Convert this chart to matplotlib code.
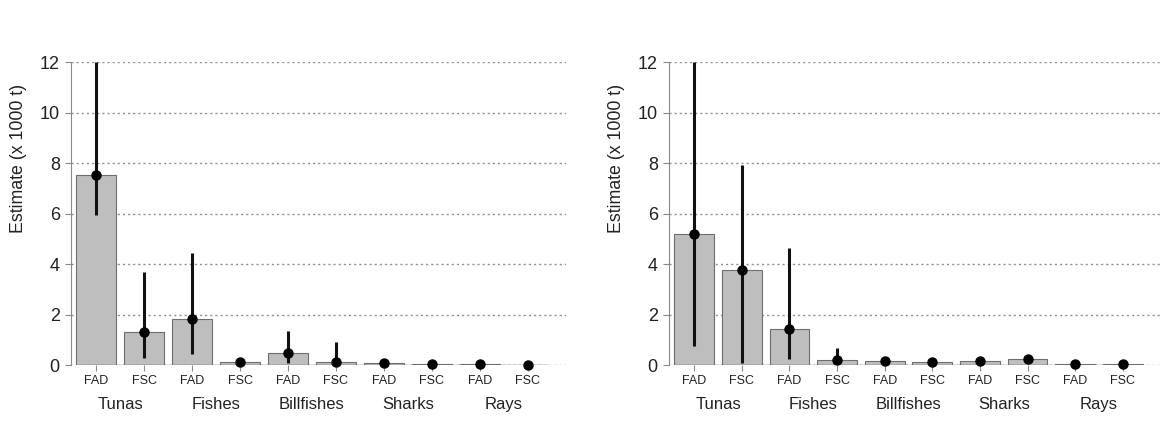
import matplotlib
matplotlib.use("Agg")
import matplotlib.pyplot as plt
import numpy as np

plt.rcParams['font.family'] = ['Liberation Sans', 'DejaVu Sans']

gears = ['FAD', 'FSC'] * 5
groups = ['Tunas', 'Fishes', 'Billfishes', 'Sharks', 'Rays']

# left panel (x 1000 t)
est_left = [7.55, 1.30, 1.83, 0.13, 0.47, 0.11, 0.07, 0.03, 0.04, 0.02]
low_left = [5.95, 0.29, 0.42, 0.04, 0.10, 0.00, 0.03, 0.01, 0.01, 0.00]
high_left = [12.0, 3.71, 4.46, 0.25, 1.34, 0.93, 0.12, 0.06, 0.07, 0.05]

# right panel
est_right = [5.18, 3.76, 1.42, 0.20, 0.18, 0.11, 0.16, 0.25, 0.03, 0.05]
low_right = [0.75, 0.09, 0.25, 0.05, 0.06, 0.04, 0.04, 0.14, 0.00, 0.01]
high_right = [12.0, 7.95, 4.64, 0.68, 0.32, 0.18, 0.30, 0.38, 0.06, 0.08]

txt = '#222222'
axcol = '#8a8a8a'


def panel(ax, est, low, high):
    x = np.arange(len(est))
    w = 1 / 1.2
    ax.set_xlim(-0.53, 9.8)
    ax.set_ylim(0, 12)
    for yv in range(0, 13, 2):
        ax.axhline(yv, color='#8f8f8f', lw=1.0, ls=(0, (1.5, 2.2)), zorder=0)
    ax.bar(x, est, width=w, color='#bebebe', edgecolor='#6e6e6e', lw=0.8, zorder=2)
    ax.hlines(0, x[0] - w / 2, x[-1] + w / 2, color='#6e6e6e', lw=1.0, zorder=3)
    ax.vlines(x, low, high, color='#111111', lw=2.2, zorder=4, clip_on=False)
    ax.plot(x, est, 'o', color='#000000', ms=6.5, zorder=5, clip_on=False)

    for s in ['top', 'right', 'bottom']:
        ax.spines[s].set_visible(False)
    ax.spines['left'].set_color(axcol)
    ax.spines['left'].set_bounds(0, 12)
    ax.set_yticks(range(0, 13, 2))
    ax.tick_params(axis='y', length=4, color=axcol, labelsize=13, labelcolor=txt, pad=4)
    ax.set_xticks(x)
    ax.set_xticklabels(gears)
    ax.tick_params(axis='x', length=4, color=axcol, labelsize=9, labelcolor=txt, pad=3)
    ax.set_ylabel('Estimate (x 1000 t)', fontsize=12.8, color=txt)
    ax.yaxis.set_label_coords(-0.089, 0.684)
    for g, name in enumerate(groups):
        ax.text(2 * g + 0.5, -0.13, name, transform=ax.get_xaxis_transform(),
                ha='center', va='center', fontsize=12, color=txt)


fig = plt.figure(figsize=(11.63, 4.28), dpi=100)
ax1 = fig.add_axes([0.061, 0.147, 0.4256, 0.707])
ax2 = fig.add_axes([0.5752, 0.147, 0.423, 0.707])
panel(ax1, est_left, low_left, high_left)
panel(ax2, est_right, low_right, high_right)

fig.savefig('out.png', dpi=100)
